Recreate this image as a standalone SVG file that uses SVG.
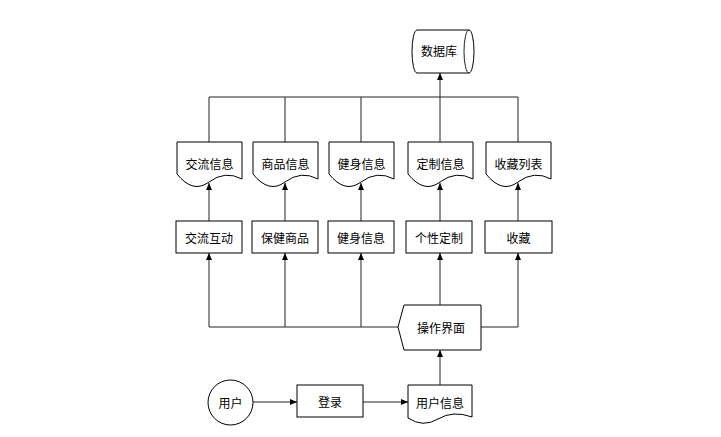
<svg xmlns="http://www.w3.org/2000/svg" width="721" height="437" viewBox="0 0 721 437">
<style>
.s{fill:#fff;stroke:#000;stroke-width:1}
.t{font-family:"Noto Sans CJK SC","Liberation Sans",sans-serif;font-size:12px;fill:#000;text-anchor:middle;dominant-baseline:central}
.c{fill:none;stroke:#222;stroke-width:1}
</style>
<defs>
<marker id="a" markerWidth="8" markerHeight="8" refX="7" refY="4" orient="auto" markerUnits="userSpaceOnUse">
<path d="M0,1 L7,4 L0,7 Z" fill="#000"/>
</marker>
<path id="doc" d="M0,0 H65 V37 Q48,28 32,40 Q16,52 0,32 Z"/>
<path id="doc2" d="M0,0 H64 V32 Q45,25 30,34 Q15,43 0,33 Z"/>
</defs>
<rect width="721" height="437" fill="#fff"/>
<g id="connectors">
<polyline class="c" points="209,142 209,97 518,97 518,142"/>
<line class="c" x1="285" y1="97" x2="285" y2="142"/>
<line class="c" x1="361" y1="97" x2="361" y2="142"/>
<line class="c" x1="440" y1="142" x2="440" y2="73" marker-end="url(#a)"/>
<line class="c" x1="209" y1="221" x2="209" y2="183" marker-end="url(#a)"/>
<line class="c" x1="285" y1="221" x2="285" y2="183" marker-end="url(#a)"/>
<line class="c" x1="361" y1="221" x2="361" y2="183" marker-end="url(#a)"/>
<line class="c" x1="440" y1="221" x2="440" y2="183" marker-end="url(#a)"/>
<line class="c" x1="518" y1="221" x2="518" y2="183" marker-end="url(#a)"/>
<polyline class="c" points="398,327 209,327 209,253" marker-end="url(#a)"/>
<line class="c" x1="285" y1="327" x2="285" y2="253" marker-end="url(#a)"/>
<line class="c" x1="361" y1="327" x2="361" y2="253" marker-end="url(#a)"/>
<line class="c" x1="440" y1="305" x2="440" y2="253" marker-end="url(#a)"/>
<polyline class="c" points="481,327 518,327 518,253" marker-end="url(#a)"/>
<line class="c" x1="440" y1="385" x2="440" y2="350" marker-end="url(#a)"/>
<line class="c" x1="253" y1="402" x2="297" y2="402" marker-end="url(#a)"/>
<line class="c" x1="363" y1="402" x2="408" y2="402" marker-end="url(#a)"/>
</g>
<g id="db">
<path class="s" d="M417,30 H469 A5,21.5 0 0 1 469,73 H417 A5,21.5 0 0 1 417,30 Z"/>
<path class="c" d="M469,30 A5,21.5 0 0 0 469,73" stroke="#000"/>
<text class="t" x="439" y="50">数据库</text>
</g>
<g id="d1"><use href="#doc" class="s" x="177" y="142"/><text class="t" x="209.5" y="163">交流信息</text></g>
<g id="d2"><use href="#doc" class="s" x="253" y="142"/><text class="t" x="285.5" y="163">商品信息</text></g>
<g id="d3"><use href="#doc" class="s" x="329" y="142"/><text class="t" x="361.5" y="163">健身信息</text></g>
<g id="d4"><use href="#doc" class="s" x="408" y="142"/><text class="t" x="440.5" y="163">定制信息</text></g>
<g id="d5"><use href="#doc" class="s" x="486" y="142"/><text class="t" x="518.5" y="163">收藏列表</text></g>
<g id="b1"><rect class="s" x="176" y="221" width="66" height="32"/><text class="t" x="209" y="237">交流互动</text></g>
<g id="b2"><rect class="s" x="252" y="221" width="66" height="32"/><text class="t" x="285" y="237">保健商品</text></g>
<g id="b3"><rect class="s" x="328" y="221" width="66" height="32"/><text class="t" x="361" y="237">健身信息</text></g>
<g id="b4"><rect class="s" x="406" y="221" width="66" height="32"/><text class="t" x="439" y="237">个性定制</text></g>
<g id="b5"><rect class="s" x="485" y="221" width="67" height="32"/><text class="t" x="518.5" y="237">收藏</text></g>
<g id="ui"><path class="s" d="M404,305 H481 V350 H404 L398,327 Z"/><text class="t" x="441" y="327">操作界面</text></g>
<g id="user"><circle class="s" cx="230.5" cy="402.5" r="22.5"/><text class="t" x="230.5" y="402">用户</text></g>
<g id="login"><rect class="s" x="297" y="385" width="66" height="32"/><text class="t" x="330" y="401">登录</text></g>
<g id="uinfo"><use href="#doc2" class="s" x="408" y="385"/><text class="t" x="440" y="402">用户信息</text></g>
</svg>
